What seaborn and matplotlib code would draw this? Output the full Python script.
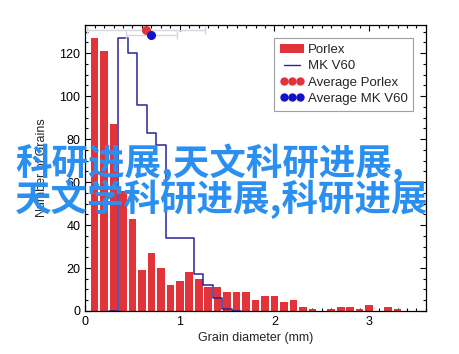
import numpy as np
import pandas as pd
import matplotlib
matplotlib.use("Agg")
import matplotlib.pyplot as plt
from matplotlib.lines import Line2D
from matplotlib.patches import Patch
from matplotlib.ticker import MultipleLocator
import seaborn as sns

# ---- data ----
porlex_size = [0.1, 0.2, 0.3, 0.4, 0.5, 0.6, 0.7, 0.8, 0.9, 1.0, 1.1, 1.2, 1.3, 1.4, 1.5, 1.6, 1.7,
               1.8, 1.9, 2.0, 2.1, 2.2, 2.3, 2.4, 2.5, 2.6, 2.7, 2.8, 2.9, 3.0, 3.1, 3.2, 3.3]
porlex_count = [127, 121, 87, 56, 43, 19, 27, 20, 12, 14, 18, 15, 11, 11, 9, 9, 9,
                5, 7, 7, 4, 5, 2, 1, 0, 1, 2, 2, 1, 3, 0, 2, 1]

v60_size = [0.3, 0.4, 0.5, 0.6, 0.7, 0.8, 0.9, 1.0, 1.1, 1.2, 1.3, 1.4, 1.5, 1.6]
v60_count = [0, 127, 120, 96, 83, 77, 34, 34, 34, 17, 12, 6, 1, 0]

avg_names = ["Average Porlex", "Average MK V60"]
avg_size = [0.646, 0.70]
avg_y = [130.7, 128.4]
avg_err = [0.625, 0.27]

watermark = ["科研进展,天文科研进展,", "天文学科研进展,科研进展"]

red = "#e2333a"
navy = "#2a2496"
blue = "#1212c8"

sns.set_style("ticks")
plt.rcParams["font.family"] = ["Liberation Sans", "DejaVu Sans"]

fig = plt.figure(figsize=(4.6, 3.54), dpi=100)
ax = fig.add_axes([0.185, 0.1215, 0.741, 0.8075])

porlex = pd.DataFrame({"size": porlex_size, "count": porlex_count})
v60 = pd.DataFrame({"size": v60_size, "count": v60_count})

sns.histplot(data=porlex, x="size", weights="count", binwidth=0.1, binrange=(0.05, 3.35),
             shrink=0.8, color=red, alpha=1, linewidth=0, ax=ax)

sns.histplot(data=v60, x="size", weights="count", binwidth=0.1, binrange=(0.25, 1.65),
             element="step", fill=False, color=navy, linewidth=1.1, ax=ax)

# averages with horizontal spread
for x, y, e, c in zip(avg_size, avg_y, avg_err, [red, blue]):
    ax.errorbar(x, y, xerr=e, fmt="o", color=c, ecolor="#d6d6e0", elinewidth=1,
                capsize=3, markersize=5.5, zorder=5)

ax.set_xlim(0, 3.6)
ax.set_ylim(0, 133)
ax.xaxis.set_major_locator(MultipleLocator(1))
ax.xaxis.set_minor_locator(MultipleLocator(0.1))
ax.yaxis.set_major_locator(MultipleLocator(20))
ax.yaxis.set_minor_locator(MultipleLocator(5))
ax.tick_params(which="both", direction="in", top=True, right=True, labelsize=9, colors="black")
ax.tick_params(which="major", length=4, width=0.8)
ax.tick_params(which="minor", length=2.5, width=0.8)
for s in ax.spines.values():
    s.set_linewidth(0.9)
    s.set_color("black")

ax.set_xlabel("Grain diameter (mm)", fontsize=9, labelpad=3)
ax.set_ylabel("Number of Grains", fontsize=9, labelpad=8)

handles = [
    Patch(facecolor=red, edgecolor="none"),
    Line2D([], [], color=navy, lw=1),
    Line2D([], [], color=red, marker="o", linestyle="none", markersize=5),
    Line2D([], [], color=blue, marker="o", linestyle="none", markersize=5),
]
labels = ["Porlex", "MK V60"] + avg_names
leg = ax.legend(handles, labels, loc="upper right", bbox_to_anchor=(0.963, 0.955),
                numpoints=3, fontsize=9.5, frameon=True, fancybox=False,
                handlelength=1.8, handletextpad=0.3, labelspacing=0.3,
                borderpad=0.45, borderaxespad=0)
leg.get_frame().set_edgecolor("#888888")
leg.get_frame().set_linewidth(0.8)

# watermark text over the chart
cjk = ["Noto Sans CJK SC", "DejaVu Sans"]
fig.text(0.032, 0.54, watermark[0], family=cjk, fontsize=26.3, fontweight="bold",
         color="#2a8ff0", va="center", ha="left")
fig.text(0.032, 0.437, watermark[1], family=cjk, fontsize=26.3, fontweight="bold",
         color="#2a8ff0", va="center", ha="left")

fig.savefig("out.png", dpi=100)
